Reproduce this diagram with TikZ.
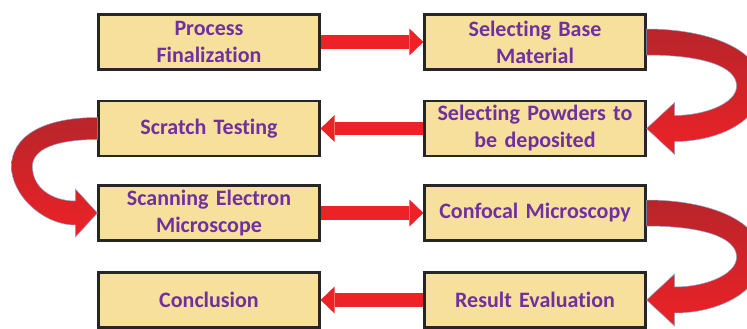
\documentclass[tikz,border=0pt]{standalone}
\usepackage{fontspec}
\setmainfont{Carlito}[Ligatures={NoCommon, NoContextual}]
\usetikzlibrary{arrows.meta, calc}
\definecolor{boxfill}{HTML}{F6E09C}
\definecolor{boxline}{HTML}{262626}
\definecolor{textpurple}{HTML}{7030A0}
\definecolor{arrowred}{HTML}{EC2227}
\definecolor{arrowdark}{HTML}{B8252A}
\definecolor{arrowedge}{HTML}{8FA6CC}

\begin{document}
\begin{tikzpicture}[x=1pt, y=-1pt]
            \tikzset{
                stepbox/.style={draw=boxline, line width=2.2pt, fill=boxfill, minimum width=221pt, minimum height=55pt,
                    text width=214pt, align=center, inner sep=0pt, text=textpurple,
                    font=\fontsize{22}{27}\selectfont\bfseries},
                flow/.style={line width=13.5pt, arrowred, -{Triangle[length=14pt, width=27pt, line width=0pt]}},
                bendarrow/.style={top color=arrowdark, bottom color=arrowred, draw=arrowedge, line width=0.5pt}
            };
            \useasboundingbox (0,0) rectangle (747,329);
            % left column
            \node[stepbox] (pf) at (209, 42) {Process\\Finalization};
            \node[stepbox] (st) at (209, 128.5) {Scratch Testing};
            \node[stepbox] (sem) at (209, 213) {Scanning Electron\\Microscope};
            \node[stepbox] (cc) at (209, 300) {Conclusion};
            % right column
            \node[stepbox] (sb) at (535, 42) {Selecting Base\\Material};
            \node[stepbox] (sp) at (535, 128.5) {Selecting Powders to\\be deposited};
            \node[stepbox] (cm) at (535, 213) {Confocal Microscopy};
            \node[stepbox] (re) at (535, 300) {Result Evaluation};
            % straight arrows
            \draw[flow] (pf.east) -- (sb.west);
            \draw[flow] (sp.west) -- (st.east);
            \draw[flow] (sem.east) -- (cm.west);
            \draw[flow] (re.west) -- (cc.east);
            % bends on the right
            \foreach \a/\b in {sb/sp, cm/re} {
                \shadedraw[bendarrow] ($(\a.east)+(0,-13)$) .. controls ($(\a.east)+(63,-13)$) and ($(\a.east)+(115,8)$) .. ($(\a.east)+(115,44)$)
                    .. controls ($(\a.east)+(115,80)$) and ($(\b.east)+(70,13)$) .. ($(\b.east)+(28,13)$)
                    -- ($(\b.east)+(28,26)$) -- (\b.east) -- ($(\b.east)+(28,-26)$) -- ($(\b.east)+(28,-13)$)
                    .. controls ($(\b.east)+(58,-13)$) and ($(\b.east)+(90,-25)$) .. ($(\a.east)+(90,44)$)
                    .. controls ($(\a.east)+(90,24)$) and ($(\a.east)+(55,13)$) .. ($(\a.east)+(0,13)$) -- cycle;
            }
            % bend on the left
            \shadedraw[bendarrow] ($(st.west)+(0,-11)$) .. controls ($(st.west)+(-58,-11)$) and ($(st.west)+(-86,10)$) .. ($(st.west)+(-86,38)$)
                .. controls ($(st.west)+(-86,66)$) and ($(sem.west)+(-55,12)$) .. ($(sem.west)+(-22,12)$)
                -- ($(sem.west)+(-22,24)$) -- (sem.west) -- ($(sem.west)+(-22,-24)$) -- ($(sem.west)+(-22,-12)$)
                .. controls ($(sem.west)+(-45,-12)$) and ($(sem.west)+(-65,-25)$) .. ($(st.west)+(-65,38)$)
                .. controls ($(st.west)+(-65,20)$) and ($(st.west)+(-40,11)$) .. ($(st.west)+(0,11)$) -- cycle;
        \end{tikzpicture}
\end{document}
